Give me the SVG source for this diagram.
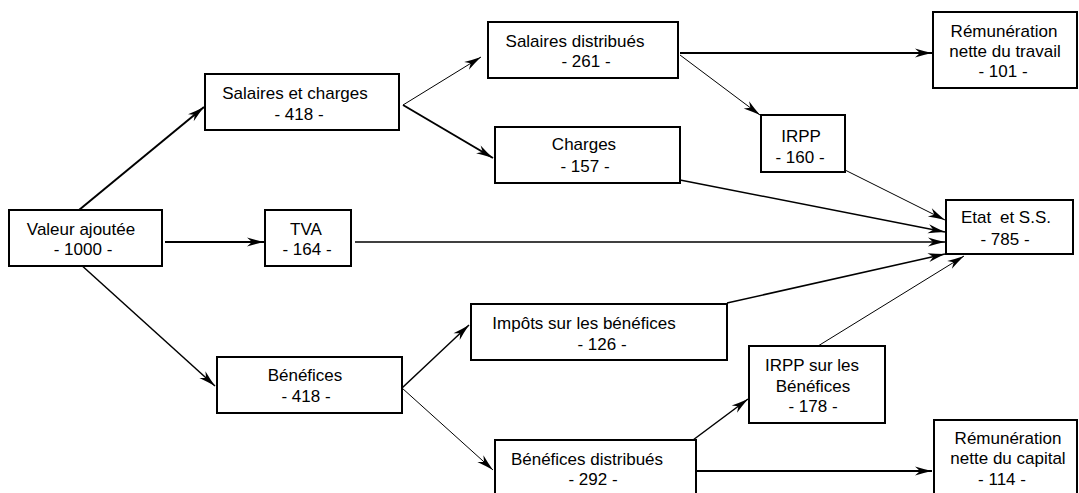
<svg xmlns="http://www.w3.org/2000/svg" width="1079" height="493" viewBox="0 0 1079 493">
<style>
.box{fill:#fff;stroke:#000;stroke-width:2}
.t{font-family:"Liberation Sans",Arial,sans-serif;font-size:17px;fill:#000;text-anchor:middle}
.c{fill:none;stroke:#000}
.w2{stroke-width:2}
.w15{stroke-width:1.5}
.w1{stroke-width:1}
</style>
<defs>
<marker id="ah" markerUnits="userSpaceOnUse" markerWidth="20" markerHeight="12" viewBox="-19 -6 20 12" refX="0" refY="0" orient="auto">
<path d="M0,0 Q-9,-2 -17,-4.5 L-12,0 L-17,4.5 Q-9,2 0,0 Z" fill="#000"/>
</marker>
</defs>
<rect width="1079" height="493" fill="#fff"/>
<g id="connectors">
<line class="c w2" x1="79" y1="210" x2="204" y2="107" marker-end="url(#ah)"/>
<line class="c w1" x1="403" y1="105" x2="481" y2="57" marker-end="url(#ah)"/>
<line class="c w2" x1="403" y1="105" x2="493" y2="158" marker-end="url(#ah)"/>
<line class="c w2" x1="165" y1="242" x2="264" y2="242" marker-end="url(#ah)"/>
<line class="c w15" x1="355" y1="242" x2="945" y2="242" marker-end="url(#ah)"/>
<line class="c w15" x1="79" y1="263" x2="215" y2="386" marker-end="url(#ah)"/>
<line class="c w2" x1="680" y1="53" x2="932" y2="53" marker-end="url(#ah)"/>
<line class="c w1" x1="680" y1="55" x2="760" y2="115" marker-end="url(#ah)"/>
<line class="c w15" x1="680" y1="180" x2="945" y2="232" marker-end="url(#ah)"/>
<line class="c w1" x1="843" y1="169" x2="945" y2="220" marker-end="url(#ah)"/>
<line class="c w15" x1="402" y1="388" x2="469" y2="325" marker-end="url(#ah)"/>
<line class="c w1" x1="402" y1="388" x2="493" y2="470" marker-end="url(#ah)"/>
<line class="c w15" x1="727" y1="303" x2="945" y2="254" marker-end="url(#ah)"/>
<line class="c w1" x1="818" y1="346" x2="964" y2="256" marker-end="url(#ah)"/>
<line class="c w15" x1="693" y1="440" x2="748" y2="399" marker-end="url(#ah)"/>
<line class="c w2" x1="691" y1="471" x2="932" y2="471" marker-end="url(#ah)"/>
</g>
<g id="valeur-ajoutee">
<rect class="box" x="9" y="210" width="153" height="56"/>
<text class="t" x="81" y="235">Valeur ajoutée</text>
<text class="t" x="83" y="255">- 1000 -</text>
</g>
<g id="salaires-charges">
<rect class="box" x="205" y="74" width="194" height="56"/>
<text class="t" x="295" y="99">Salaires et charges</text>
<text class="t" x="299" y="120">- 418 -</text>
</g>
<g id="salaires-distribues">
<rect class="box" x="488" y="22" width="190" height="56"/>
<text class="t" x="575" y="47">Salaires distribués</text>
<text class="t" x="586" y="67">- 261 -</text>
</g>
<g id="charges">
<rect class="box" x="495" y="127" width="185" height="56"/>
<text class="t" x="584" y="150">Charges</text>
<text class="t" x="585" y="172">- 157 -</text>
</g>
<g id="tva">
<rect class="box" x="265" y="210" width="86" height="56"/>
<text class="t" x="306" y="235">TVA</text>
<text class="t" x="307" y="255">- 164 -</text>
</g>
<g id="remuneration-travail">
<rect class="box" x="933" y="12" width="144" height="76"/>
<text class="t" x="1004" y="37">Rémunération</text>
<text class="t" x="1005" y="57">nette du travail</text>
<text class="t" x="1003" y="77">- 101 -</text>
</g>
<g id="irpp">
<rect class="box" x="761" y="115" width="84" height="57"/>
<text class="t" x="801" y="142">IRPP</text>
<text class="t" x="800" y="163">- 160 -</text>
</g>
<g id="etat">
<rect class="box" x="946" y="200" width="127" height="54"/>
<text class="t" x="1006" y="223">Etat <tspan dx="4">et S.S.</tspan></text>
<text class="t" x="1005" y="245">- 785 -</text>
</g>
<g id="impots-benefices">
<rect class="box" x="471" y="304" width="256" height="56"/>
<text class="t" x="584" y="329">Impôts sur les bénéfices</text>
<text class="t" x="602" y="350">- 126 -</text>
</g>
<g id="benefices">
<rect class="box" x="217" y="357" width="185" height="56"/>
<text class="t" x="305" y="381">Bénéfices</text>
<text class="t" x="306" y="402">- 418 -</text>
</g>
<g id="irpp-benefices">
<rect class="box" x="749" y="346" width="136" height="77"/>
<text class="t" x="812" y="371">IRPP sur les</text>
<text class="t" x="813" y="392">Bénéfices</text>
<text class="t" x="813" y="412">- 178 -</text>
</g>
<g id="benefices-distribues">
<rect class="box" x="495" y="440" width="201" height="60"/>
<text class="t" x="587" y="465">Bénéfices distribués</text>
<text class="t" x="593" y="485">- 292 -</text>
</g>
<g id="remuneration-capital">
<rect class="box" x="934" y="420" width="143" height="80"/>
<text class="t" x="1008" y="444">Rémunération</text>
<text class="t" x="1008" y="464">nette du capital</text>
<text class="t" x="1002" y="485">- 114 -</text>
</g>
</svg>
